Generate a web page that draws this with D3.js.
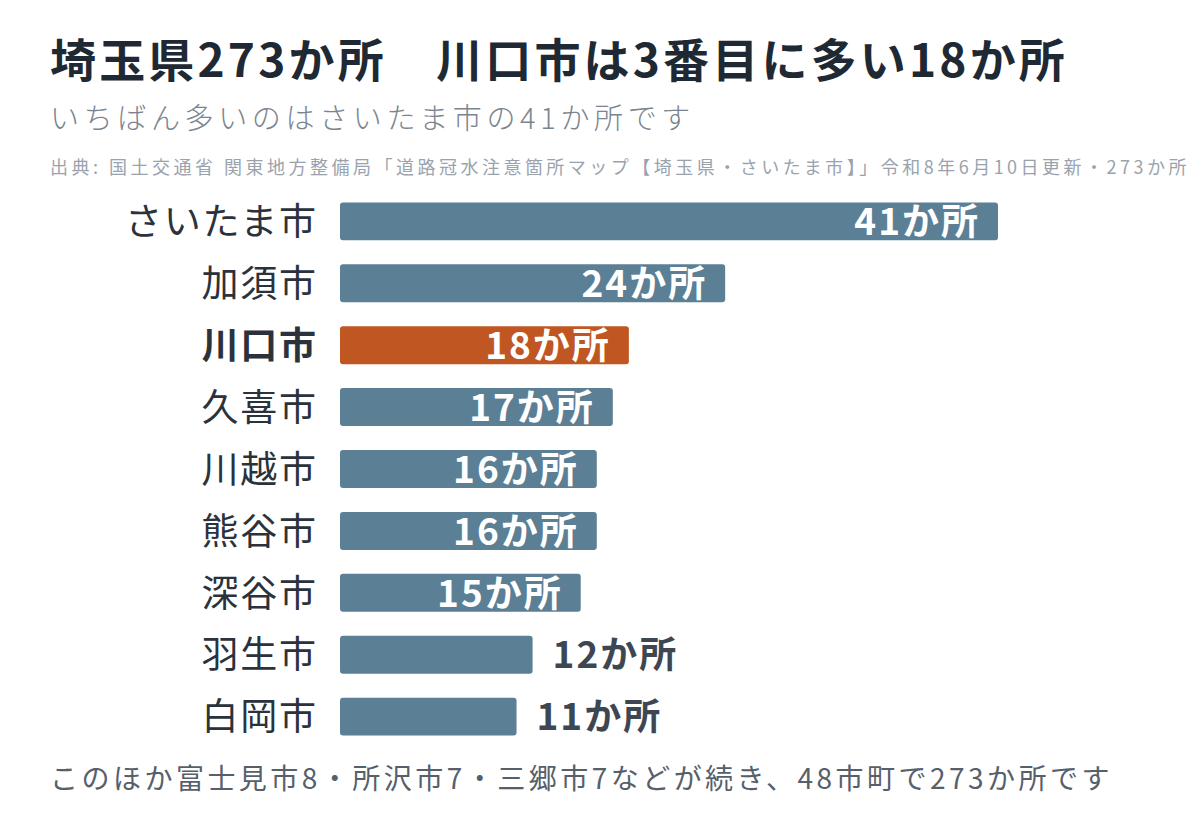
<!DOCTYPE html>
<html><head><meta charset="utf-8">
<script src="https://cdn.jsdelivr.net/npm/d3@7"></script>
<style>
html,body{margin:0;padding:0;background:#fff;}
svg{display:block;font-family:"Noto Sans CJK JP","Noto Sans",sans-serif;}
</style></head>
<body>
<svg id="c" width="1200" height="824"></svg>
<script>
const categories = ["さいたま市","加須市","川口市","久喜市","川越市","熊谷市","深谷市","羽生市","白岡市"];
const values = [41,24,18,17,16,16,15,12,11];
const highlight = "川口市";
const unit = "か所";
const title = "埼玉県273か所　川口市は3番目に多い18か所";
const subtitle = "いちばん多いのはさいたま市の41か所です";
const source = "出典: 国土交通省 関東地方整備局「道路冠水注意箇所マップ【埼玉県・さいたま市】」令和8年6月10日更新・273か所";
const footer = "このほか富士見市8・所沢市7・三郷市7などが続き、48市町で273か所です";

const svg = d3.select("#c");
const data = categories.map((c,i)=>({c, v: values[i]}));

// spread text to a target width via letter-spacing
function fit(sel, target){
  sel.attr("letter-spacing",0);
  const n = sel.text().length;
  const w = sel.node().getComputedTextLength();
  const ls = (target - w)/n;
  sel.attr("letter-spacing", ls);
  return ls;
}

fit(svg.append("text").attr("x",50).attr("y",77).attr("font-size",46).attr("font-weight",700)
  .attr("fill","#1f2933").text(title), 1018);
fit(svg.append("text").attr("x",50).attr("y",129).attr("font-size",29).attr("font-weight",300)
  .attr("fill","#7b8590").text(subtitle), 645);
fit(svg.append("text").attr("x",50).attr("y",174).attr("font-size",18)
  .attr("fill","#9aa3ad").text(source), 1140);

const x = d3.scaleLinear().domain([0,41]).range([340,998]);
const y = d3.scaleBand().domain(categories).range([190,748]).paddingInner(0.387).paddingOuter(0.2);

const g = svg.append("g");
g.selectAll("rect").data(data).join("rect")
  .attr("x", x(0)).attr("y", d=>y(d.c))
  .attr("width", d=>x(d.v)-x(0)).attr("height", y.bandwidth())
  .attr("rx",3)
  .attr("fill", d=>d.c===highlight?"#c05621":"#5b7f95");

g.selectAll("text.cat").data(data).join("text").attr("class","cat")
  .attr("y", d=>y(d.c)+y.bandwidth()/2).attr("dy","0.37em")
  .attr("text-anchor","end").attr("font-size",37).attr("letter-spacing",1.8)
  .attr("x",316+1.8)
  .attr("font-weight", d=>d.c===highlight?700:400)
  .attr("fill","#2b323b").text(d=>d.c);

g.selectAll("text.val").data(data).join("text").attr("class","val")
  .attr("font-size",37).attr("font-weight",700).attr("letter-spacing",2)
  .each(function(d){
    const inside = d.v>=15;
    d3.select(this)
      .attr("x", inside ? x(d.v)-20+2 : x(d.v)+20)
      .attr("text-anchor", inside?"end":"start")
      .attr("fill", inside?"#ffffff":"#3d4753");
  })
  .attr("y", d=>y(d.c)+y.bandwidth()/2).attr("dy","0.37em")
  .text(d=>d.v+unit);

fit(svg.append("text").attr("x",50).attr("y",789).attr("font-size",28)
  .attr("fill","#56606b").text(footer), 1063);
</script>
</body></html>
